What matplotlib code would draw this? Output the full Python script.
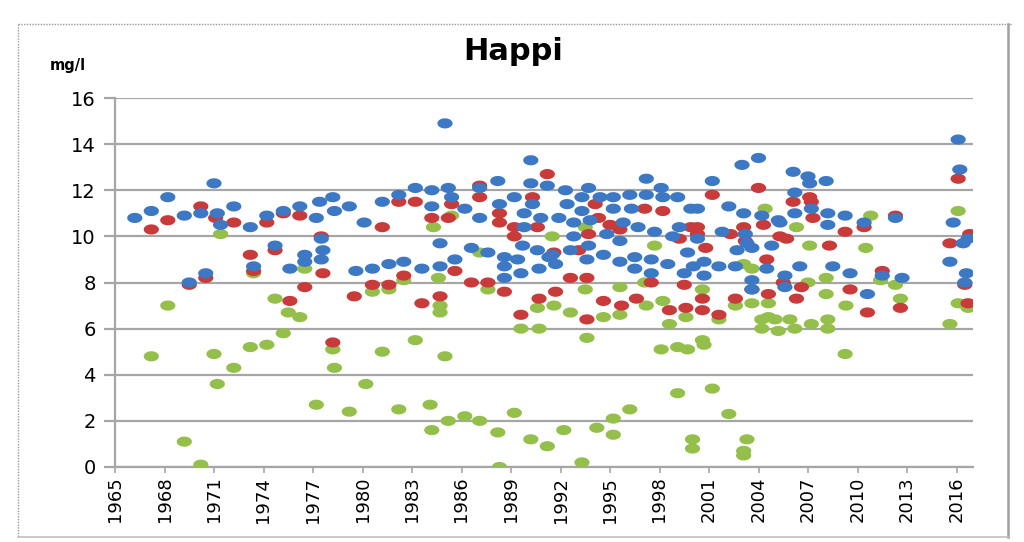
import numpy as np
import matplotlib
matplotlib.use('Agg')
import matplotlib.pyplot as plt
from matplotlib.path import Path
from matplotlib.lines import Line2D

# year, value pairs
blue_x = [1966.2, 1967.2, 1968.2, 1969.2, 1969.5, 1970.2, 1970.5, 1971.0, 1971.2, 1971.4,
          1972.2, 1973.2, 1973.4, 1974.2, 1974.7, 1975.2, 1975.6, 1976.2, 1976.5, 1976.5,
          1977.2, 1977.4, 1977.5, 1977.6, 1977.5, 1978.2, 1978.3, 1979.2, 1979.6, 1980.1,
          1980.6, 1981.2, 1981.6, 1982.2, 1982.5, 1983.2, 1984.2, 1984.2, 1985.0, 1985.2,
          1985.4, 1986.2, 1987.1, 1987.1, 1988.2, 1988.3, 1989.2, 1990.2, 1990.2, 1991.2,
          1990.3, 1989.8, 1990.8, 1984.7, 1986.6, 1987.6, 1983.6, 1984.7, 1985.6, 1988.6,
          1988.6, 1988.6, 1989.4, 1989.6, 1989.8, 1989.7, 1990.6, 1990.7, 1991.3, 1992.3,
          1993.7, 1993.3, 1994.4, 1995.2, 1996.2, 1997.2, 1998.1, 1999.1, 1992.4, 1993.3,
          1995.2, 1996.3, 1997.2, 1998.2, 1991.9, 1992.8, 1993.8, 1994.8, 1995.8, 1996.7,
          1997.7, 1998.8, 1999.9, 1999.2, 1992.8, 1993.7, 1995.6, 1992.6, 1991.5, 1991.7,
          1993.6, 1994.6, 1995.6, 1996.5, 1996.5, 1997.5, 1997.5, 1998.5, 1999.5, 1999.7,
          2001.2, 2003.0, 2004.0, 2000.3, 2002.2, 2003.1, 2004.2, 2005.2, 2006.1, 2007.0,
          2008.1, 2007.1, 2006.2, 2006.2, 2007.2, 2008.2, 2008.2, 2000.3, 2001.8, 2003.2,
          2003.3, 2002.7, 2003.6, 2004.8, 2005.3, 2000.05, 2000.7, 2000.7, 2001.6, 2002.6,
          2003.6, 2003.6, 2004.5, 2005.6, 2005.6, 2006.5, 2008.5, 2009.25, 2009.55, 2010.4,
          2010.6, 2011.5, 2012.3, 2012.7, 2016.1, 2016.2, 2015.8, 2015.6, 2016.4, 2016.7,
          2016.6, 2016.5]
blue_y = [10.8, 11.1, 11.7, 10.9, 8.0, 11.0, 8.4, 12.3, 11.0, 10.5,
          11.3, 10.4, 8.7, 10.9, 9.6, 11.1, 8.6, 11.3, 9.2, 8.9,
          10.8, 11.5, 9.9, 9.4, 9.0, 11.7, 11.1, 11.3, 8.5, 10.6,
          8.6, 11.5, 8.8, 11.8, 8.9, 12.1, 12.0, 11.3, 14.9, 12.1,
          11.7, 11.2, 10.8, 12.1, 12.4, 11.4, 11.7, 13.3, 12.3, 12.2,
          11.4, 11.0, 10.8, 9.7, 9.5, 9.3, 8.6, 8.7, 9.0, 9.1,
          8.7, 8.2, 9.0, 8.4, 10.4, 9.6, 9.4, 8.6, 9.1, 12.0,
          12.1, 11.7, 11.7, 11.7, 11.8, 12.5, 12.1, 11.7, 11.4, 11.1,
          11.2, 11.2, 11.8, 11.7, 10.8, 10.6, 10.7, 10.1, 10.6, 10.4,
          10.2, 10.0, 11.2, 10.4, 10.0, 9.6, 9.8, 9.4, 9.2, 8.8,
          9.0, 9.2, 8.9, 9.1, 8.6, 9.0, 8.4, 8.8, 8.4, 9.3,
          12.4, 13.1, 13.4, 11.2, 11.3, 11.0, 10.9, 10.7, 12.8, 12.6,
          12.4, 12.3, 11.9, 11.0, 11.2, 11.0, 10.5, 9.9, 10.2, 10.1,
          9.7, 9.4, 9.5, 9.6, 10.6, 8.7, 8.9, 8.3, 8.7, 8.7,
          8.1, 7.7, 8.6, 8.3, 7.8, 8.7, 8.7, 10.9, 8.4, 10.6,
          7.5, 8.3, 10.8, 8.2, 14.2, 12.9, 10.6, 8.9, 9.7, 9.9,
          8.4, 8.0]

red_x = [1967.2, 1968.2, 1970.2, 1969.5, 1970.5, 1971.1, 1972.2, 1973.2, 1973.4, 1974.2,
         1975.2, 1976.2, 1974.7, 1976.5, 1977.5, 1977.6, 1975.6, 1978.2, 1981.2, 1982.2,
         1979.5, 1980.6, 1981.6, 1982.5, 1983.2, 1984.2, 1985.2, 1985.4, 1987.1, 1987.1,
         1988.3, 1988.3, 1989.2, 1989.2, 1990.3, 1991.2, 1983.6, 1984.7, 1985.6, 1986.6,
         1987.6, 1988.6, 1989.6, 1990.7, 1990.6, 1994.1, 1994.3, 1995.0, 1995.6, 1997.1,
         1998.2, 1993.7, 1999.2, 1999.9, 1992.6, 1993.6, 1991.7, 1994.6, 1995.7, 1996.6,
         1993.6, 1998.6, 1999.6, 1999.5, 1997.5, 1991.6, 1993.1, 2001.2, 2004.0, 2000.3,
         2000.3, 2002.3, 2003.1, 2003.2, 2004.3, 2005.3, 2005.7, 2006.1, 2007.1, 2007.2,
         2007.3, 2008.3, 2000.8, 2004.5, 2000.6, 2000.6, 2001.6, 2002.6, 2003.6, 2004.6,
         2005.5, 2006.3, 2006.6, 2009.25, 2009.55, 2010.4, 2010.6, 2011.5, 2012.3, 2012.6,
         2016.1, 2015.6, 2016.8, 2016.5, 2016.7]
red_y = [10.3, 10.7, 11.3, 7.9, 8.2, 10.8, 10.6, 9.2, 8.5, 10.6,
         11.0, 10.9, 9.4, 7.8, 10.0, 8.4, 7.2, 5.4, 10.4, 11.5,
         7.4, 7.9, 7.9, 8.3, 11.5, 10.8, 10.8, 11.4, 11.7, 12.2,
         11.0, 10.6, 10.4, 10.0, 11.7, 12.7, 7.1, 7.4, 8.5, 8.0,
         8.0, 7.6, 6.6, 7.3, 10.4, 11.4, 10.8, 10.5, 10.3, 11.2,
         11.1, 10.1, 9.9, 10.4, 8.2, 8.2, 7.6, 7.2, 7.0, 7.3,
         6.4, 6.8, 6.9, 7.9, 8.0, 9.3, 9.4, 11.8, 12.1, 10.4,
         10.1, 10.1, 10.4, 9.8, 10.5, 10.0, 9.9, 11.5, 11.7, 11.5,
         10.8, 9.6, 9.5, 9.0, 7.3, 6.8, 6.6, 7.3, 7.7, 7.5,
         8.0, 7.3, 7.8, 10.2, 7.7, 10.4, 6.7, 8.5, 10.9, 6.9,
         12.5, 9.7, 10.1, 7.9, 7.1]

green_x = [1971.4, 1968.2, 1967.2, 1971.0, 1972.2, 1973.2, 1971.2, 1969.2, 1970.2, 1973.4,
           1974.7, 1975.5, 1976.2, 1975.2, 1974.2, 1976.5, 1978.2, 1978.3, 1977.2, 1979.2,
           1980.2, 1981.2, 1982.2, 1980.6, 1981.6, 1982.5, 1984.3, 1985.4, 1987.1, 1984.6,
           1984.7, 1984.7, 1987.6, 1990.6, 1983.2, 1985.0, 1989.6, 1990.7, 1984.1, 1984.2,
           1985.2, 1986.2, 1987.1, 1988.2, 1989.2, 1990.2, 1991.2, 1988.3, 1991.5, 1993.5,
           1997.7, 1993.5, 1995.6, 1997.1, 1991.6, 1992.6, 1994.6, 1995.6, 1997.2, 1998.2,
           1998.6, 1999.6, 1993.6, 1998.1, 1999.1, 1999.7, 1999.1, 1996.2, 1995.2, 1994.2,
           1995.2, 1992.2, 1993.3, 2000.0, 2000.0, 2004.4, 2006.3, 2007.1, 2008.1, 2008.1,
           2007.0, 2003.1, 2003.6, 2000.6, 2002.6, 2003.6, 2004.6, 2001.6, 2004.2, 2004.6,
           2005.0, 2004.2, 2005.2, 2005.9, 2006.2, 2007.2, 2008.2, 2008.2, 2000.6, 2000.7,
           2001.2, 2002.2, 2003.3, 2003.1, 2003.1, 2010.8, 2010.5, 2009.3, 2009.25, 2012.3,
           2012.6, 2016.1, 2015.6, 2016.1, 2016.7, 2011.4]
green_y = [10.1, 7.0, 4.8, 4.9, 4.3, 5.2, 3.6, 1.1, 0.1, 8.4,
           7.3, 6.7, 6.5, 5.8, 5.3, 8.6, 5.1, 4.3, 2.7, 2.4,
           3.6, 5.0, 2.5, 7.6, 7.7, 8.1, 10.4, 10.9, 9.3, 8.2,
           7.0, 6.7, 7.7, 6.9, 5.5, 4.8, 6.0, 6.0, 2.7, 1.6,
           2.0, 2.2, 2.0, 1.5, 2.35, 1.2, 0.9, 0.0, 10.0, 10.4,
           9.6, 7.7, 7.8, 8.0, 7.0, 6.7, 6.5, 6.6, 7.0, 7.2,
           6.2, 6.5, 5.6, 5.1, 5.2, 5.1, 3.2, 2.5, 2.1, 1.7,
           1.4, 1.6, 0.2, 1.2, 0.8, 11.2, 10.4, 9.6, 8.2, 7.5,
           8.0, 8.8, 8.6, 7.7, 7.0, 7.1, 7.1, 6.4, 6.4, 6.5,
           6.4, 6.0, 5.9, 6.4, 6.0, 6.2, 6.4, 6.0, 5.5, 5.3,
           3.4, 2.3, 1.2, 0.7, 0.5, 10.9, 9.5, 7.0, 4.9, 7.9,
           7.3, 11.1, 6.2, 7.1, 6.9, 8.1]

year_ticks = list(range(1965, 2017, 3))
y_ticks = list(range(0, 17, 2))

plt.rcParams['font.family'] = ['DejaVu Sans']

# stretched oval dots like the source image
t = np.linspace(0, 2 * np.pi, 40)
oval = Path(np.column_stack([1.5 * np.cos(t), np.sin(t)]), closed=True)

fig = plt.figure(figsize=(10.24, 5.42), dpi=100)
ax = fig.add_axes([115 / 1024, 1 - 467 / 542, 858 / 1024, 369 / 542])

ax.scatter(green_x, green_y, s=120, marker=oval, color='#93bf4a', edgecolors='none', zorder=3)
ax.scatter(red_x, red_y, s=120, marker=oval, color='#c93a3a', edgecolors='none', zorder=4)
ax.scatter(blue_x, blue_y, s=120, marker=oval, color='#3d78c4', edgecolors='none', zorder=5)

ax.set_xlim(1965, 2017)
ax.set_ylim(0, 16)
ax.set_xticks(year_ticks)
ax.set_xticklabels([str(y) for y in year_ticks], rotation=90, fontsize=13)
ax.set_yticks(y_ticks)
ax.set_yticklabels([str(y) for y in y_ticks], fontsize=14)
ax.grid(axis='y', color='#a6a6a6', linewidth=1.6, zorder=0)
ax.set_axisbelow(True)
for side in ['top', 'right']:
    ax.spines[side].set_visible(False)
ax.spines['left'].set_color('#a6a6a6')
ax.spines['left'].set_linewidth(1.6)
ax.spines['bottom'].set_color('#a6a6a6')
ax.spines['bottom'].set_linewidth(1.6)
ax.tick_params(axis='y', length=8, width=1.6, color='#a6a6a6', pad=6)
ax.tick_params(axis='x', length=4, width=1.2, color='#a6a6a6', pad=3)

fig.text(0.501, 0.905, 'Happi', ha='center', va='center', fontsize=22, fontweight='bold')
fig.text(0.049, 0.880, 'mg/l', ha='left', va='center', fontsize=10.5, fontweight='bold')

# chart frame
fig.add_artist(Line2D([18 / 1024, 1012 / 1024], [1 - 24 / 542, 1 - 24 / 542],
                      transform=fig.transFigure, color='#9a9a9a', lw=1, ls=(0, (1, 1))))
fig.add_artist(Line2D([18 / 1024, 18 / 1024], [1 - 24 / 542, 1 - 537 / 542],
                      transform=fig.transFigure, color='#9a9a9a', lw=1, ls=(0, (1, 1))))
fig.add_artist(Line2D([1008 / 1024, 1008 / 1024], [1 - 24 / 542, 1 - 537 / 542],
                      transform=fig.transFigure, color='#a0a0a0', lw=1.8))
fig.add_artist(Line2D([18 / 1024, 1008 / 1024], [1 - 537 / 542, 1 - 537 / 542],
                      transform=fig.transFigure, color='#c0c0c0', lw=1.2))

fig.savefig('out.png', dpi=100)
